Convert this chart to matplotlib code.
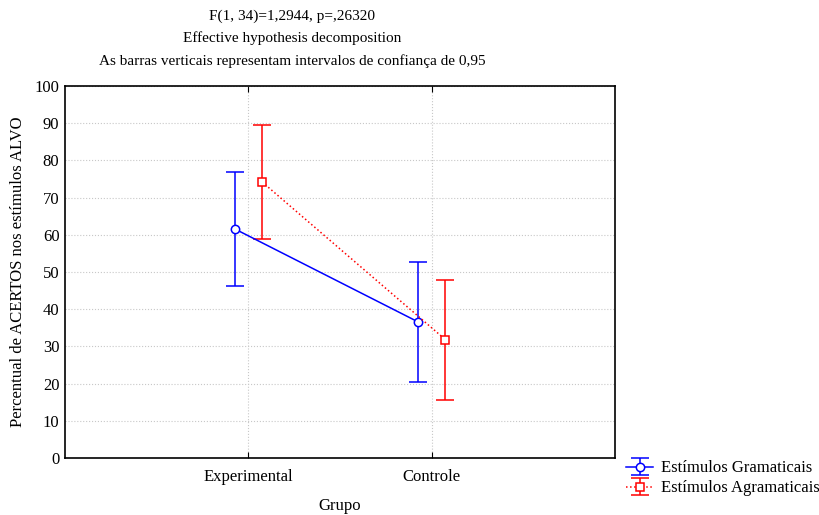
import matplotlib.pyplot as plt

plt.rcParams['font.family'] = ['Liberation Serif', 'DejaVu Serif']

# dados
grupos = ['Experimental', 'Controle']
series = ['Estímulos Gramaticais', 'Estímulos Agramaticais']
medias_gram = [61.6, 36.6]
ic_sup_gram = [76.9, 52.7]
ic_inf_gram = [46.3, 20.5]
medias_agram = [74.2, 31.8]
ic_sup_agram = [89.4, 47.8]
ic_inf_agram = [58.9, 15.7]

fig = plt.figure(figsize=(8.19, 5.15), dpi=100)
ax = fig.add_axes([0.0794, 0.1107, 0.6716, 0.7223])

x = list(range(len(grupos)))
desloc = 0.075

xg = [i - desloc for i in x]
err_g = [[m - lo for m, lo in zip(medias_gram, ic_inf_gram)],
         [hi - m for m, hi in zip(medias_gram, ic_sup_gram)]]
eb1 = ax.errorbar(xg, medias_gram, yerr=err_g, color='#0000ff', ls='-',
                  lw=1.1, marker='o', ms=6, mfc='white', mec='#0000ff',
                  mew=1.1, capsize=6.5, capthick=1.1, elinewidth=1.1,
                  label=series[0], zorder=3)

xa = [i + desloc for i in x]
err_a = [[m - lo for m, lo in zip(medias_agram, ic_inf_agram)],
         [hi - m for m, hi in zip(medias_agram, ic_sup_agram)]]
eb2 = ax.errorbar(xa, medias_agram, yerr=err_a, color='#ff0000', ls=':',
                  lw=1.1, marker='s', ms=6, mfc='white', mec='#ff0000',
                  mew=1.1, capsize=6.5, capthick=1.1, elinewidth=1.1,
                  label=series[1], zorder=3)

ax.set_xlim(-1, 2)
ax.set_ylim(0, 100)
ax.set_xticks(x)
ax.set_xticklabels(grupos, fontsize=12)
ax.set_yticks(range(0, 101, 10))
ax.tick_params(axis='y', labelsize=12, length=0, pad=4)
ax.tick_params(axis='x', direction='in', length=4, top=True, pad=8)
ax.grid(True, color='#c8c8c8', ls=':', lw=0.8)
for s in ax.spines.values():
    s.set_linewidth(1.2)

ax.set_xlabel('Grupo', fontsize=12, labelpad=9)
ax.set_ylabel('Percentual de ACERTOS nos estímulos ALVO', fontsize=12,
              labelpad=6)

fig.text(292 / 819, 1 - 16 / 515, 'F(1, 34)=1,2944, p=,26320',
         ha='center', va='center', fontsize=11)
fig.text(292 / 819, 1 - 38 / 515, 'Effective hypothesis decomposition',
         ha='center', va='center', fontsize=11)
fig.text(292 / 819, 1 - 61 / 515,
         'As barras verticais representam intervalos de confiança de 0,95',
         ha='center', va='center', fontsize=11)

fig.legend(handles=[eb1, eb2], loc='upper left',
           bbox_to_anchor=(618 / 819, 1 - 452 / 515), frameon=False,
           fontsize=12, handlelength=1.6, handletextpad=0.5,
           labelspacing=0.25, borderpad=0)

fig.savefig('out.png', dpi=100)
